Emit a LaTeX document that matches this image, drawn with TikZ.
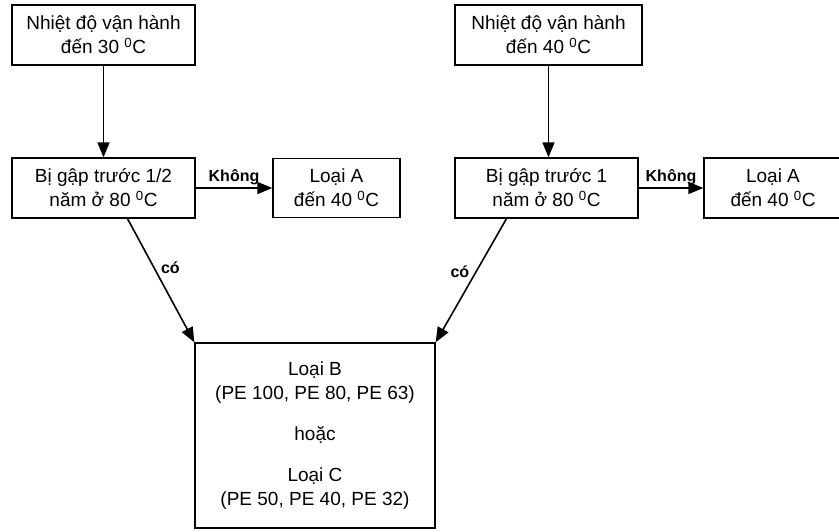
\documentclass[tikz,border=0pt]{standalone}
\usepackage{fontspec}
\setmainfont{Liberation Sans}
\usetikzlibrary{arrows.meta,calc}
\begin{document}
\begin{tikzpicture}[x=1pt,y=-1pt,
  box/.style={draw,line width=1.3pt,inner sep=0pt,align=center,
    font=\fontsize{19}{24}\selectfont},
  conn/.style={line width=1.6pt,-{Triangle[length=15pt,width=12pt]}},
  lab/.style={font=\fontsize{16}{18}\selectfont\bfseries,inner sep=2pt}]
\useasboundingbox (0,0) rectangle (839,531);
\clip (0,0) rectangle (839,531);
\node[box,minimum width=183pt,minimum height=60pt] (t1) at (103.5,35) {Nhiệt độ vận hành\\đến 30 \textsuperscript{0}C};
\node[box,minimum width=187pt,minimum height=60pt] (t2) at (548.5,35) {Nhiệt độ vận hành\\đến 40 \textsuperscript{0}C};
\node[box,minimum width=183pt,minimum height=60pt] (m1) at (103.5,188) {Bị gập trước 1/2\\năm ở 80 \textsuperscript{0}C};
\node[box,minimum width=127pt,minimum height=59pt] (a1) at (336.5,188) {Loại A\\đến 40 \textsuperscript{0}C};
\node[box,minimum width=183pt,minimum height=60pt] (m2) at (546.5,188) {Bị gập trước 1\\năm ở 80 \textsuperscript{0}C};
\node[box,minimum width=138pt,minimum height=60pt] (a2) at (773,188) {Loại A\\đến 40 \textsuperscript{0}C};
\node[box,minimum width=240pt,minimum height=185pt] (b) at (315,435.5) {Loại B\\(PE 100, PE 80, PE 63)\\[17pt]hoặc\\[17pt]Loại C\\(PE 50, PE 40, PE 32)};
\coordinate (s1) at ($(m1.south)+(24,0)$);
\coordinate (s2) at ($(m2.south)+(-40,0)$);
\draw[conn] (t1.south) -- (m1.north);
\draw[conn] (t2.south) -- (t2.south |- m2.north);
\draw[conn] (m1.east) -- node[lab,above] {Không} (a1.west);
\draw[conn] (m2.east) -- node[lab,above] {Không} (a2.west);
\draw[conn] (s1) -- node[lab,pos=0.4,right=4pt] {có} (b.north west);
\draw[conn] (s2) -- node[lab,pos=0.43,left=4pt] {có} (b.north east);
\end{tikzpicture}
\end{document}
